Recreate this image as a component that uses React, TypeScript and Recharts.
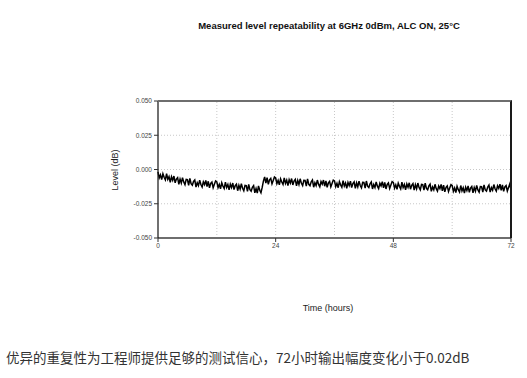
import { LineChart, Line, XAxis, YAxis, ReferenceLine } from 'recharts'

const SAMPLE_STEP_H = 0.25
const levelMilliDb = [
  -1.7, -6.1, -3.9, -7.4, -3.1, -5.7, -7.6, -3.1, -7.2, -5.2, -9.3, -5.3,
  -7.9, -4.8, -9.7, -7.0, -6.0, -10.8, -7.0, -9.9, -5.9, -9.2, -11.1, -7.2,
  -7.4, -11.5, -6.5, -10.4, -11.5, -8.7, -7.6, -12.8, -9.7, -11.8, -7.8, -11.0,
  -12.8, -9.0, -11.0, -8.0, -12.5, -8.6, -13.4, -10.2, -9.2, -13.3, -10.8, -8.3,
  -9.0, -13.2, -10.9, -14.1, -9.7, -12.1, -13.9, -9.2, -13.2, -11.0, -14.9, -10.7,
  -13.2, -9.9, -14.7, -11.8, -10.7, -15.5, -11.6, -14.4, -10.4, -13.7, -15.5, -11.6,
  -11.8, -15.9, -10.8, -14.7, -15.8, -13.0, -11.8, -17.0, -13.9, -17.2, -12.0, -15.2,
  -17.0, -13.1, -8.5, -5.4, -10.0, -6.0, -10.8, -7.5, -6.5, -10.5, -8.0, -5.5,
  -6.2, -10.3, -8.0, -11.2, -6.8, -9.1, -10.9, -6.1, -10.1, -7.8, -11.8, -7.5,
  -9.9, -6.6, -11.3, -8.4, -7.2, -12.0, -8.0, -10.9, -6.8, -10.1, -11.8, -7.9,
  -8.0, -12.1, -6.9, -10.8, -11.8, -9.0, -7.7, -12.9, -9.7, -11.8, -7.7, -10.9,
  -12.6, -8.8, -10.7, -7.7, -12.2, -8.3, -13.0, -9.8, -8.7, -12.7, -10.2, -7.7,
  -8.3, -12.5, -10.1, -13.3, -8.9, -11.2, -12.9, -8.2, -12.1, -9.8, -13.7, -9.4,
  -11.8, -8.5, -13.2, -10.2, -9.0, -13.7, -9.8, -12.6, -8.5, -11.7, -13.4, -9.4,
  -9.5, -13.6, -8.4, -12.2, -13.2, -10.4, -9.1, -14.2, -11.0, -13.1, -9.0, -12.2,
  -13.9, -10.1, -12.0, -8.9, -13.4, -9.5, -14.2, -10.9, -9.8, -13.9, -11.3, -8.8,
  -9.4, -13.6, -11.2, -14.4, -10.0, -12.3, -14.1, -9.3, -13.2, -11.0, -14.9, -10.6,
  -13.0, -9.7, -14.4, -11.5, -10.3, -15.1, -11.1, -14.0, -9.9, -13.2, -14.9, -10.9,
  -11.0, -15.1, -9.9, -13.8, -14.8, -12.0, -10.7, -15.9, -12.7, -14.8, -10.8, -14.0,
  -15.8, -12.0, -13.9, -10.9, -15.5, -11.5, -16.3, -13.1, -12.0, -16.1, -13.5, -11.1,
  -11.7, -15.9, -13.5, -16.8, -12.3, -14.7, -16.4, -11.7, -15.6, -13.3, -17.3, -13.0,
  -15.4, -12.0, -16.7, -13.6, -12.4, -17.1, -13.1, -15.8, -11.7, -14.9, -16.5, -12.5,
  -12.6, -16.5, -11.2, -14.9, -15.8, -12.8, -11.4, -16.5, -13.2, -15.1, -11.0, -14.1,
  -15.8, -11.9, -13.8, -10.7, -15.3, -11.3, -16.0, -12.7, -11.7, -15.7, -13.1, -10.6,
  -14.6,
]

const hourTicks = [0, 24, 48, 72]
const gridHours = [12, 24, 36, 48, 60]
const levelTicks = [-0.05, -0.025, 0, 0.025, 0.05]
const gridLevels = [-0.025, 0, 0.025]

const title = 'Measured level repeatability at 6GHz 0dBm, ALC ON, 25°C'
const caption = '优异的重复性为工程师提供足够的测试信心，72小时输出幅度变化小于0.02dB'

const data = levelMilliDb.map((v, i) => ({ hour: i * SAMPLE_STEP_H, level: v / 1000 }))

const W = 527
const H = 378
const margin = { top: 101, right: 16, left: 118, bottom: 120 }
const yAxisWidth = 40
const xAxisHeight = 20

const tickStyle = { fontSize: 6.5, fill: '#444', fontFamily: '"Liberation Sans", Arial, sans-serif' }

export default function App() {
  const plotLeft = margin.left + yAxisWidth
  const plotWidth = W - plotLeft - margin.right
  const plotHeight = H - margin.top - margin.bottom - xAxisHeight

  return (
    <div style={{ position: 'absolute', left: 0, top: 0, width: W, height: H, background: '#fff' }}>
      <LineChart width={W} height={H} data={data} margin={margin}>
        {gridHours.map((h) => (
          <ReferenceLine key={`gx${h}`} x={h} stroke="#c8c8c8" strokeDasharray="1 2" />
        ))}
        {gridLevels.map((l) => (
          <ReferenceLine key={`gy${l}`} y={l} stroke="#c8c8c8" strokeDasharray="1 2" />
        ))}
        <XAxis
          dataKey="hour"
          type="number"
          domain={[0, 72]}
          ticks={hourTicks}
          height={xAxisHeight}
          tick={tickStyle}
          tickSize={4}
          tickMargin={1}
          axisLine={{ stroke: '#6e6e6e', strokeWidth: 2 }}
          tickLine={{ stroke: '#333' }}
        />
        <YAxis
          type="number"
          domain={[-0.05, 0.05]}
          ticks={levelTicks}
          width={yAxisWidth}
          tick={tickStyle}
          tickSize={4}
          tickMargin={2}
          tickFormatter={(v: number) => v.toFixed(3)}
          axisLine={{ stroke: '#111', strokeWidth: 1.2 }}
          tickLine={{ stroke: '#333' }}
        />
        <Line
          type="linear"
          dataKey="level"
          stroke="#000"
          strokeWidth={1.5}
          dot={false}
          isAnimationActive={false}
        />
      </LineChart>

      {/* plot frame: grey top edge, dark right edge */}
      <div
        style={{
          position: 'absolute',
          zIndex: 2,
          left: plotLeft,
          top: margin.top - 1,
          width: plotWidth + 1,
          height: plotHeight + 1,
          boxSizing: 'border-box',
          borderTop: '2px solid #6e6e6e',
          borderRight: '2px solid #1a1a1a',
          pointerEvents: 'none',
        }}
      />

      <div
        style={{
          position: 'absolute',
          left: 0,
          width: 658,
          top: 20,
          textAlign: 'center',
          fontFamily: '"Liberation Sans", Arial, sans-serif',
          fontWeight: 'bold',
          fontSize: 9.5,
          color: '#111',
          whiteSpace: 'nowrap',
        }}
      >
        {title}
      </div>
      <div
        style={{
          position: 'absolute',
          left: 115,
          top: 170,
          transform: 'translate(-50%, -50%) rotate(-90deg)',
          fontFamily: '"Liberation Sans", Arial, sans-serif',
          fontSize: 9,
          color: '#222',
          whiteSpace: 'nowrap',
        }}
      >
        Level (dB)
      </div>
      <div
        style={{
          position: 'absolute',
          left: 0,
          width: 656,
          top: 303,
          textAlign: 'center',
          fontFamily: '"Liberation Sans", Arial, sans-serif',
          fontSize: 9,
          color: '#222',
          whiteSpace: 'nowrap',
        }}
      >
        Time (hours)
      </div>
      <div
        style={{
          position: 'absolute',
          left: 6,
          top: 348,
          fontFamily: '"Noto Sans CJK SC", sans-serif',
          fontSize: 13.5,
          lineHeight: '18px',
          color: '#333',
          whiteSpace: 'nowrap',
        }}
      >
        {caption}
      </div>
    </div>
  )
}
